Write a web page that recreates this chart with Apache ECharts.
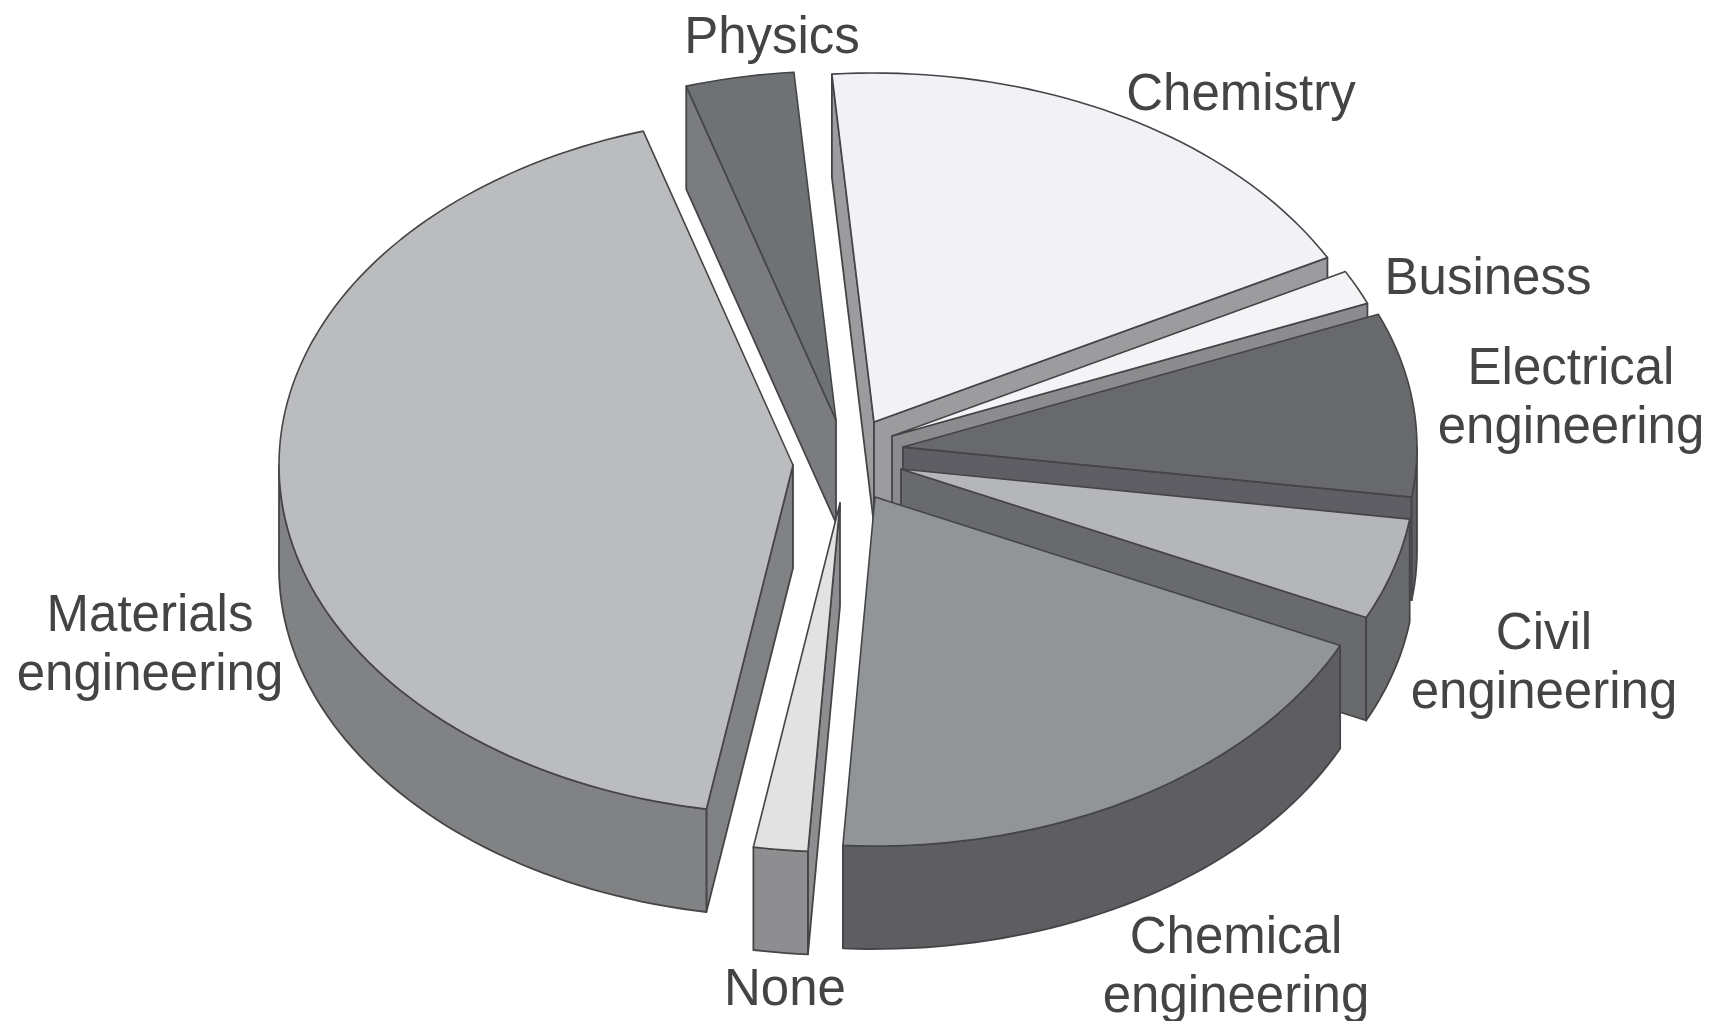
<!DOCTYPE html>
<html>
<head>
<meta charset="utf-8">
<title>First-degree subjects</title>
<style>html,body{margin:0;padding:0;background:#fff}#chart{width:1715px;height:1021px}</style>
<script src="https://cdn.jsdelivr.net/npm/echarts@6/dist/echarts.min.js"></script>
</head>
<body>
<div id="chart"></div>
<script>
// Share of each subject in percent, clockwise from just left of twelve o'clock.
const categories = ['Chemistry', 'Business', 'Electrical\nengineering', 'Civil\nengineering',
  'Chemical\nengineering', 'None', 'Materials\nengineering', 'Physics'];
const shares = [18.5, 1.6, 8.5, 4.7, 19.0, 1.7, 42.6, 3.4];

// Slice appearance, in the same order as the categories.
const topColors  = ['#f2f2f6', '#f4f4f6', '#67696b', '#b5b6b8', '#929597', '#e2e2e2', '#babcbe', '#6f7274'];
const wallColors = ['#9c9c9e', '#8c8c8e', '#5e5e64', '#686a6c', '#5d5d62', '#8e8e90', '#808284', '#7b7c7f'];
const explodeX = [24, 42, 53, 51, 25, -10, -57, -14];
const explodeY = [-38, -24, -13, 9, 37, 43, 5, -40];
const labelX = [1241, 1488, 1571, 1544, 1236, 785, 150, 772];
const labelY = [96, 280, 399, 664, 968, 991, 646, 39];

// Back-to-front paint order so nearer slices cover the walls behind them.
const paintOrder = [7, 6, 0, 1, 2, 3, 4, 5];

const pie = { cx: 850, cy: 460, rx: 514, ry: 349, depth: 103, startDeg: -4.7 };
const edge = '#454548';

const total = shares.reduce((a, b) => a + b, 0);
const spans = [];
shares.reduce((from, v) => {
  const to = from + v / total * 360;
  spans.push([from, to]);
  return to;
}, pie.startDeg);

const rad = d => d * Math.PI / 180;

function renderSlice(params, api) {
  const i = api.value(0);
  const [from, to] = spans[i];
  const ax = pie.cx + explodeX[i], ay = pie.cy + explodeY[i];
  const rim = d => [ax + pie.rx * Math.sin(rad(d)), ay - pie.ry * Math.cos(rad(d))];
  const drop = p => [p[0], p[1] + pie.depth];
  const arc = (s, e) => {
    const n = Math.max(2, Math.ceil((e - s) / 1.5));
    return Array.from({ length: n + 1 }, (_, k) => rim(s + (e - s) * k / n));
  };
  const children = [];
  const wall = pts => children.push({
    type: 'polygon', shape: { points: pts },
    style: { fill: wallColors[i], stroke: edge, lineWidth: 1.8, lineJoin: 'round' }
  });
  const apex = [ax, ay];
  // Cut faces turned towards the viewer.
  if (Math.sin(rad(from)) < 0) wall([apex, rim(from), drop(rim(from)), drop(apex)]);
  if (Math.sin(rad(to)) > 0) wall([apex, rim(to), drop(rim(to)), drop(apex)]);
  // Curved outer face, only where the rim faces the front.
  const s = Math.max(from, 90), e = Math.min(to, 270);
  if (e > s) {
    const front = arc(s, e);
    wall(front.concat(front.map(drop).reverse()));
  }
  children.push({
    type: 'polygon', shape: { points: [apex].concat(arc(from, to)) },
    style: { fill: topColors[i], stroke: edge, lineWidth: 1.6, lineJoin: 'round' }
  });
  children.push({
    type: 'text',
    style: {
      text: categories[i], x: labelX[i], y: labelY[i], textAlign: 'center', textVerticalAlign: 'middle',
      fontFamily: '"Liberation Sans", Arial, sans-serif', fontSize: 51, lineHeight: 59, fill: '#444446'
    }
  });
  return { type: 'group', children };
}

const chart = echarts.init(document.getElementById('chart'), null, { renderer: 'canvas' });
chart.setOption({
  backgroundColor: '#ffffff',
  animation: false,
  series: [{
    type: 'custom',
    coordinateSystem: 'none',
    silent: true,
    clip: false,
    encode: { value: 1 },
    data: paintOrder.map(i => [i, shares[i]]),
    renderItem: renderSlice
  }]
});
</script>
</body>
</html>
